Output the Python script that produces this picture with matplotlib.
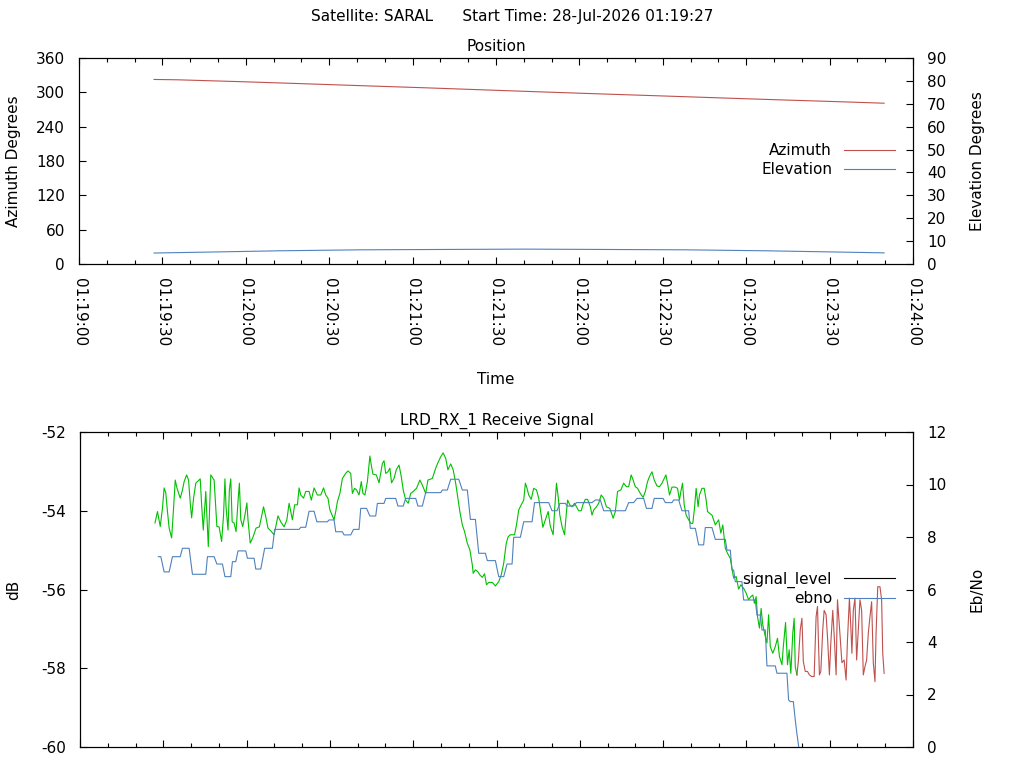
import datetime as dt
import matplotlib
matplotlib.use('Agg')
import matplotlib.pyplot as plt
import matplotlib.dates as mdates
from matplotlib.lines import Line2D

plt.rcParams['font.family'] = ['DejaVu Sans']
plt.rcParams['font.size'] = 11
plt.rcParams['axes.unicode_minus'] = False

# pass start (all times are seconds after 01:19:00)
base = dt.datetime(2026, 7, 28, 1, 19, 0)
x_start, x_end = 0, 300

# Position: azimuth (left axis) and elevation (right axis)
az_t = [27, 35.6, 59.7, 81.7, 102.9, 124.8, 145.0, 165.5, 186.7, 208.6, 229.9, 251.8, 274.8, 289.6]
az_v = [322.5, 321.9, 318.4, 314.9, 311.4, 307.9, 304.4, 300.9, 297.4, 293.9, 290.4, 286.9, 283.4, 281.0]
el_t = [27, 31.9, 50.8, 72.1, 101.9, 160, 217.9, 247.1, 269.4, 288.4, 289.6]
el_v = [4.8, 4.9, 5.3, 5.77, 6.2, 6.5, 6.2, 5.77, 5.3, 4.9, 4.85]

# Receive signal level (dB)
sig_t = [27.0, 27.9, 28.9, 29.7, 30.3, 30.9, 31.5, 32.1, 33.0, 33.7, 34.3, 34.9, 36.1, 36.9, 37.5,
         38.4, 39.1, 39.7, 40.2, 40.9, 41.7, 43.3, 43.8, 44.4, 45.3, 46.2, 47.1, 48.3, 49.3, 50.1,
         51.0, 51.7, 52.2, 52.6, 53.3, 53.8, 54.3, 54.8, 55.5, 56.2, 56.9, 57.4, 57.9, 58.6, 59.4,
         60.1, 60.5, 61.3, 62.2, 63.4, 64.6, 66.1, 66.9, 67.7, 68.7, 69.9, 70.5, 71.3, 72.3, 73.5,
         74.5, 75.3, 75.9, 76.5, 77.3, 78.3, 78.9, 79.5, 80.5, 81.3, 82.5, 83.3, 84.3, 85.5, 86.7,
         87.7, 88.5, 89.3, 90.0, 91.5, 92.1, 92.7, 93.6, 94.5, 95.7, 96.5, 97.5, 98.1, 98.9, 99.6,
         100.5, 101.3, 101.9, 102.6, 103.5, 104.4, 104.9, 105.5, 106.7, 107.7, 108.3, 108.9, 109.5,
         110.1, 110.9, 111.6, 112.2, 113.1, 113.9, 114.9, 115.7, 116.4, 117.3, 118.2, 119.1, 120.0,
         121.2, 122.4, 123.3, 124.5, 125.3, 126.9, 128.1, 128.9, 129.9, 130.8, 131.7, 132.5, 133.5,
         134.4, 135.3, 136.1, 136.8, 137.7, 138.5, 139.5, 140.4, 141.3, 141.6, 142.4, 143.3, 144.0,
         144.9, 145.7, 146.4, 147.2, 148.5, 149.6, 150.8, 151.7, 152.6, 153.5, 154.2, 155.0, 156.5,
         157.2, 158.0, 158.9, 159.8, 160.4, 161.0, 161.6, 162.5, 163.4, 164.4, 165.2, 165.8, 166.7,
         167.6, 168.6, 169.4, 170.4, 171.0, 171.6, 172.2, 172.8, 173.6, 174.5, 175.2, 175.6, 176.4,
         177.2, 178.1, 178.8, 179.6, 180.5, 181.2, 182.0, 182.8, 183.8, 184.4, 185.0, 186.0, 186.8,
         187.7, 188.6, 189.6, 190.8, 191.4, 192.0, 192.8, 193.6, 194.8, 195.8, 196.8, 197.6, 198.5,
         199.2, 200.0, 200.8, 201.8, 202.8, 203.6, 204.4, 205.1, 206.0, 206.8, 207.8, 208.7, 209.6,
         210.4, 211.0, 211.6, 212.3, 213.2, 214.4, 215.2, 215.9, 216.4, 217.0, 217.6, 218.3, 219.2,
         220.0, 220.7, 221.3, 221.9, 222.6, 223.1, 224.0, 224.8, 225.5, 226.0, 227.0, 227.6, 228.8,
         230.0, 230.8, 231.5, 232.4, 233.2, 234.2, 234.8, 235.4, 236.3, 237.2, 238.0, 239.0, 239.9,
         240.8, 241.6, 242.3, 242.9, 243.5, 244.0, 244.7, 245.3, 245.9, 246.8, 247.4, 248.0, 248.6,
         249.5, 250.4, 251.2, 251.9, 252.8, 253.3, 254.1, 254.8, 255.4, 256.0, 256.7, 257.2, 257.6,
         258.2]
sig_v = [-54.31, -54.02, -54.40, -53.93, -53.42, -53.55, -54.02, -54.44, -54.69, -53.93, -53.22,
         -53.42, -53.68, -53.47, -53.26, -53.09, -53.22, -53.80, -54.18, -53.68, -53.30, -53.19,
         -53.85, -54.49, -53.51, -54.91, -53.09, -53.22, -54.40, -54.41, -54.78, -54.11, -53.19,
         -53.90, -54.49, -53.47, -53.19, -54.28, -54.31, -54.53, -53.77, -53.30, -54.23, -54.40,
         -54.11, -53.80, -54.23, -54.82, -54.69, -54.44, -54.41, -53.90, -54.15, -54.44, -54.51,
         -54.61, -54.41, -54.13, -54.28, -54.41, -54.23, -53.81, -54.02, -54.23, -53.85, -53.85,
         -53.42, -53.60, -53.68, -53.51, -53.51, -53.73, -53.42, -53.60, -53.60, -53.42, -53.60,
         -53.68, -53.98, -54.23, -54.02, -53.77, -53.56, -53.18, -53.05, -52.99, -53.05, -53.56,
         -53.43, -53.47, -53.60, -53.26, -53.56, -53.60, -53.26, -52.61, -52.84, -53.07, -53.09,
         -53.29, -53.05, -52.80, -52.73, -53.05, -53.01, -52.92, -53.29, -53.18, -52.96, -52.84,
         -53.13, -53.47, -53.73, -53.81, -53.56, -53.51, -53.43, -53.22, -53.35, -53.56, -53.22,
         -53.18, -52.92, -52.78, -52.63, -52.53, -52.67, -52.96, -52.81, -52.96, -53.30, -53.68,
         -54.02, -54.36, -54.53, -54.83, -54.99, -55.38, -55.59, -55.50, -55.55, -55.63, -55.69,
         -55.60, -55.88, -55.82, -55.82, -55.91, -55.80, -55.63, -55.33, -54.83, -54.66, -54.61,
         -54.61, -54.36, -53.98, -53.85, -53.73, -53.30, -53.43, -53.60, -53.71, -53.43, -53.47,
         -53.68, -53.98, -54.42, -54.23, -54.02, -54.40, -54.61, -53.90, -53.30, -53.64, -54.11,
         -54.40, -54.61, -54.02, -53.73, -53.85, -53.90, -53.81, -53.90, -54.00, -54.00, -53.83,
         -53.71, -53.71, -53.90, -54.11, -53.98, -53.90, -53.81, -53.60, -53.68, -53.90, -53.94,
         -54.06, -54.19, -54.02, -53.51, -53.47, -53.30, -53.39, -53.39, -53.09, -53.22, -53.39,
         -53.43, -53.56, -53.66, -53.51, -53.26, -53.13, -53.01, -53.22, -53.37, -53.39, -53.30,
         -53.18, -53.09, -53.30, -53.60, -53.40, -53.40, -53.43, -53.73, -53.51, -53.30, -53.85,
         -54.11, -54.23, -54.32, -54.32, -53.94, -53.43, -53.90, -53.60, -53.43, -53.43, -53.73,
         -54.02, -54.08, -54.11, -54.36, -54.23, -54.57, -54.36, -54.95, -55.08, -55.21, -55.46,
         -55.71, -55.67, -55.99, -55.88, -55.97, -56.09, -56.26, -56.18, -56.14, -56.35, -56.18,
         -56.69, -56.98, -56.48, -56.90, -57.19, -57.36, -56.64, -57.45, -57.62, -57.45, -57.24,
         -57.70, -57.91, -57.45, -56.84, -57.91, -57.53, -58.13, -57.11, -56.73, -57.96, -58.17]

# tail of the signal after ebno drops out
tail_t = [258.2, 258.7, 259.4, 260.0, 260.5, 261.2, 262.0, 262.7, 263.5, 264.4, 265.1, 265.6,
          265.9, 266.3, 266.8, 267.5, 268.0, 268.7, 269.2, 269.9, 270.4, 271.1, 271.7, 272.3,
          272.8, 273.5, 274.4, 275.2, 275.9, 276.4, 277.1, 277.6, 278.0, 278.5, 279.1, 279.7,
          280.3, 280.9, 281.5, 282.1, 282.7, 283.3, 283.9, 284.5, 285.1, 285.7, 286.3, 286.7,
          287.3, 288.1, 288.7, 289.1, 289.6]
tail_v = [-58.17, -57.83, -57.02, -56.73, -57.83, -58.08, -58.08, -58.17, -58.21, -58.21, -56.69,
          -56.43, -57.20, -58.17, -58.08, -57.02, -56.53, -56.64, -57.20, -58.17, -57.36, -56.53,
          -57.28, -58.17, -56.26, -56.94, -57.86, -57.79, -58.30, -57.28, -56.22, -56.94, -57.62,
          -56.53, -56.22, -57.79, -57.03, -56.26, -56.53, -58.17, -57.96, -57.79, -57.11, -56.69,
          -56.31, -57.86, -58.34, -57.11, -55.93, -55.93, -56.26, -57.62, -58.13]

# Eb/No, flat stretches (start and end of each)
ebno_t = [28.2, 29.1, 30.3, 32.1, 33.3, 36.1, 36.9, 39.3, 40.5, 45.3, 45.9, 48.3, 49.3, 51.3,
          52.2, 54.3, 54.9, 56.1, 56.9, 59.7, 60.3, 62.7, 63.3, 65.1, 66.5, 69.3, 70.1, 78.9,
          79.5, 81.3, 82.5, 84.3, 85.3, 89.1, 89.7, 91.5, 92.1, 94.5, 95.1, 97.5, 98.5, 100.5,
          101.1, 103.2, 104.4, 106.5, 107.1, 109.5, 110.1, 113.7, 114.5, 116.4, 117.3, 120.9,
          121.7, 123.3, 124.5, 129.9, 130.5, 132.3, 133.5, 136.4, 137.7, 139.5, 140.6, 142.4,
          143.6, 146.0, 146.7, 149.6, 150.8, 152.6, 153.8, 155.6, 156.2, 158.6, 159.8, 162.8,
          163.7, 168.8, 170.0, 171.8, 172.8, 174.8, 175.4, 177.8, 178.8, 184.4, 185.6, 187.4,
          188.6, 196.4, 197.6, 199.4, 200.6, 203.0, 204.0, 206.0, 206.8, 210.0, 210.8, 213.2,
          213.8, 215.6, 216.8, 219.2, 219.8, 221.6, 222.8, 224.6, 225.2, 227.6, 228.8, 232.4,
          233.0, 234.2, 234.8, 235.4, 236.0, 238.4, 239.0, 243.2, 243.8, 245.0, 245.6, 246.8,
          247.4, 250.4, 251.0, 254.6, 255.2, 255.8, 256.9, 257.6, 258.2, 259.1]
ebno_v = [7.25, 7.25, 6.67, 6.67, 7.25, 7.25, 7.57, 7.57, 6.58, 6.58, 7.25, 7.25, 6.97, 6.97,
          6.49, 6.49, 7.06, 7.06, 7.47, 7.47, 7.19, 7.19, 6.78, 6.78, 7.57, 7.57, 8.29, 8.29,
          8.37, 8.37, 8.98, 8.98, 8.58, 8.58, 8.65, 8.65, 8.20, 8.20, 8.08, 8.08, 8.29, 8.29,
          9.09, 9.09, 8.80, 8.80, 9.28, 9.28, 9.47, 9.47, 9.18, 9.18, 9.47, 9.47,
          9.18, 9.18, 9.69, 9.69, 9.79, 9.79, 10.20, 10.20, 9.79, 9.79, 8.67, 8.67,
          7.38, 7.38, 7.10, 7.10, 6.49, 6.49, 6.97, 6.97, 7.99, 7.99, 8.58, 8.58,
          9.31, 9.31, 9.00, 9.00, 9.28, 9.28, 9.18, 9.18, 9.31, 9.31, 9.41, 9.41,
          9.00, 9.00, 9.31, 9.31, 9.47, 9.47, 9.09, 9.09, 9.47, 9.47, 9.31, 9.31,
          9.41, 9.41, 9.00, 9.00, 8.33, 8.33, 7.70, 7.70, 8.36, 8.36, 7.91, 7.91,
          7.50, 7.50, 6.74, 6.74, 6.30, 6.30, 5.60, 5.60, 5.03, 5.03, 4.46, 4.46,
          3.09, 3.09, 2.81, 2.81, 1.79, 1.73, 1.73, 1.03, 0.5, -0.2]


def to_time(secs):
    return [base + dt.timedelta(seconds=s) for s in secs]


RED = '#c0504d'
BLUE = '#4f81bd'
GREEN = '#00c000'
LW = 0.8


def style_x(ax):
    ax.set_xlim(to_time([x_start])[0], to_time([x_end])[0])
    ax.xaxis.set_major_locator(mdates.SecondLocator(bysecond=[0, 30]))
    ax.xaxis.set_minor_locator(mdates.SecondLocator(bysecond=[10, 20, 40, 50]))
    ax.xaxis.set_major_formatter(mdates.DateFormatter('%H:%M:%S'))
    ax.tick_params(axis='x', which='major', direction='in', top=True, length=5, width=0.8)
    ax.tick_params(axis='x', which='minor', direction='in', top=True, length=3, width=0.8)


fig = plt.figure(figsize=(10.24, 7.68), dpi=100)
fig.text(0.5, 1 - 17 / 768, 'Satellite: SARAL      Start Time: 28-Jul-2026 01:19:27',
         ha='center', va='center', fontsize=11)

# --- Position ---
ax = fig.add_axes([79 / 1024, 1 - 264 / 768, 834 / 1024, 206 / 768])
ax2 = ax.twinx()
ax.plot(to_time(az_t), az_v, color=RED, lw=LW)
ax2.plot(to_time(el_t), el_v, color=BLUE, lw=LW)
style_x(ax)
ax.set_ylim(0, 360)
ax.set_yticks(range(0, 361, 60))
ax2.set_ylim(0, 90)
ax2.set_yticks(range(0, 91, 10))
ax.tick_params(axis='y', direction='in', right=False, length=5, width=0.8, pad=10)
ax2.tick_params(axis='y', direction='in', length=5, width=0.8, pad=10)
for lab in ax.get_xticklabels():
    lab.set_rotation(-90)
    lab.set_ha('center')
    lab.set_va('top')
ax.tick_params(axis='x', pad=10)
ax.set_title('Position', fontsize=11, pad=5)
ax.set_ylabel('Azimuth Degrees')
ax.yaxis.set_label_coords(-0.0695, 0.5)
ax2.set_ylabel('Elevation Degrees')
ax2.yaxis.set_label_coords(1.068, 0.5)
ax.set_xlabel('Time')
ax.xaxis.set_label_coords(0.5, -0.524)
h1 = [Line2D([], [], color=RED, lw=LW), Line2D([], [], color=BLUE, lw=LW)]
ax2.legend(h1, ['Azimuth', 'Elevation'], loc='center right', bbox_to_anchor=(0.978, 0.505),
           frameon=False, markerfirst=False, handlelength=3.3, handletextpad=0.8,
           labelspacing=0.25, borderpad=0, borderaxespad=0, fontsize=11)

# --- Receive signal ---
ax3 = fig.add_axes([80 / 1024, 1 - 747 / 768, 833 / 1024, 315 / 768])
ax4 = ax3.twinx()
ax3.plot(to_time(sig_t), sig_v, color=GREEN, lw=LW)
ax3.plot(to_time(tail_t), tail_v, color=RED, lw=LW)
ax4.plot(to_time(ebno_t), ebno_v, color=BLUE, lw=LW)
style_x(ax3)
ax3.tick_params(axis='x', labelbottom=False)
ax3.set_ylim(-60, -52)
ax3.set_yticks(range(-60, -51, 2))
ax4.set_ylim(0, 12)
ax4.set_yticks(range(0, 13, 2))
ax3.tick_params(axis='y', direction='in', right=False, length=5, width=0.8, pad=10)
ax4.tick_params(axis='y', direction='in', length=5, width=0.8, pad=10)
ax3.set_title('LRD_RX_1 Receive Signal', fontsize=11, pad=5)
ax3.set_ylabel('dB')
ax3.yaxis.set_label_coords(-0.0708, 0.5)
ax4.set_ylabel('Eb/No')
ax4.yaxis.set_label_coords(1.068, 0.5)
h2 = [Line2D([], [], color='black', lw=LW), Line2D([], [], color=BLUE, lw=LW)]
ax4.legend(h2, ['signal_level', 'ebno'], loc='center right', bbox_to_anchor=(0.978, 0.502),
           frameon=False, markerfirst=False, handlelength=3.3, handletextpad=0.8,
           labelspacing=0.25, borderpad=0, borderaxespad=0, fontsize=11)

for a in (ax, ax2, ax3, ax4):
    for s in a.spines.values():
        s.set_linewidth(0.8)

fig.savefig('out.png', dpi=100)
